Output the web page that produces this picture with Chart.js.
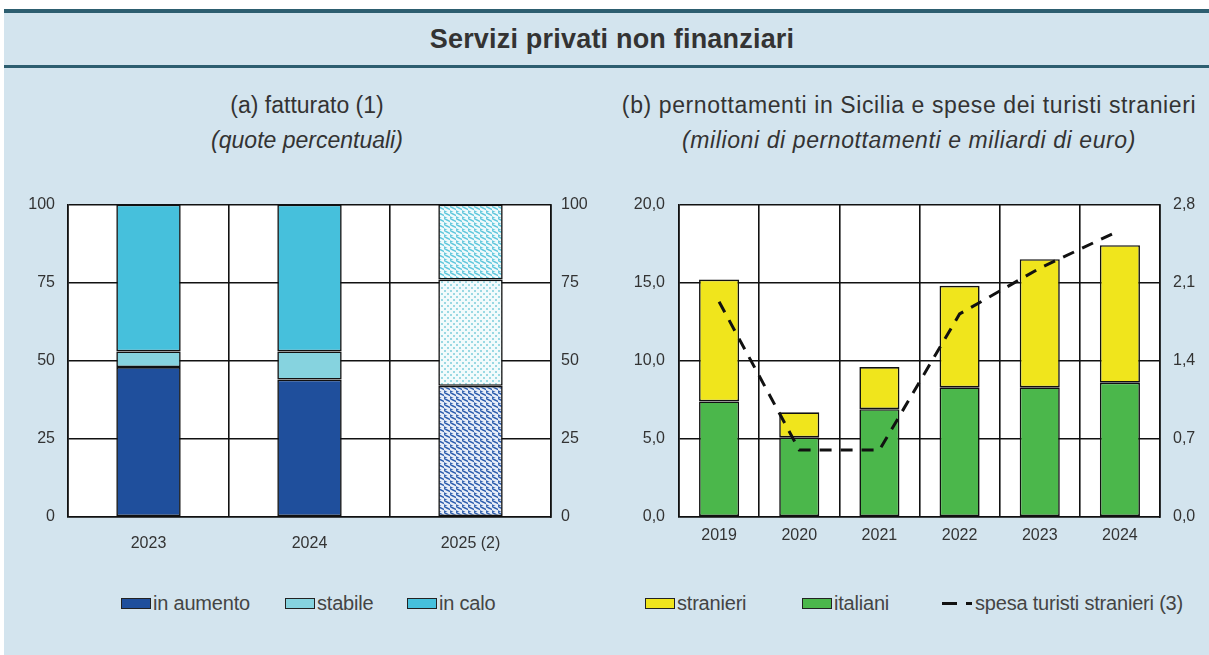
<!DOCTYPE html>
<html>
<head>
<meta charset="utf-8">
<script src="https://cdn.jsdelivr.net/npm/chart.js@4.4.1/dist/chart.umd.min.js"></script>
<style>
  html, body { margin:0; padding:0; }
  body { width:1209px; height:655px; position:relative; overflow:hidden; background:#fff; font-family:"Liberation Sans", Arial, sans-serif; color:#333; }
  #bg { position:absolute; left:4px; top:12px; width:1205px; height:643px; background:#d3e4ee; }
  .rule { position:absolute; left:4px; width:1205px; background:#2d5e70; }
  .t { position:absolute; white-space:nowrap; transform:translateX(-50%); color:#333; }
  .cv { position:absolute; }
  .leg { position:absolute; top:591px; height:24px; line-height:24px; font-size:20px; color:#444; white-space:nowrap; letter-spacing:-0.2px; }
  .leg span.box { display:inline-block; width:28px; height:9px; border:1px solid #222; vertical-align:middle; margin-right:2px; position:relative; top:-1px; }
  .leg span.d1 { display:inline-block; width:15px; height:3px; background:#111; vertical-align:middle; margin-right:9px; position:relative; top:-1px; }
  .leg span.d2 { display:inline-block; width:6px; height:3px; background:#111; vertical-align:middle; margin-right:3px; position:relative; top:-1px; }
</style>
</head>
<body>
<div id="bg"></div>
<div class="rule" style="top:9px;height:4px;"></div>
<div class="rule" style="top:65px;height:3px;"></div>
<div class="t" style="left:612px;top:24px;font-size:27px;font-weight:bold;color:#333;letter-spacing:0.2px;">Servizi privati non finanziari</div>

<div class="t" style="left:307px;top:92px;font-size:23px;">(a) fatturato (1)</div>
<div class="t" style="left:307px;top:127px;font-size:23px;font-style:italic;">(quote percentuali)</div>
<div class="t" style="left:909px;top:92px;font-size:23px;letter-spacing:0.6px;">(b) pernottamenti in Sicilia e spese dei turisti stranieri</div>
<div class="t" style="left:909px;top:127px;font-size:23px;font-style:italic;letter-spacing:0.6px;">(milioni di pernottamenti e miliardi di euro)</div>

<canvas id="c1" class="cv" style="left:12px;top:182px;" width="589" height="378"></canvas>
<canvas id="c2" class="cv" style="left:623px;top:181px;" width="582" height="379"></canvas>

<div class="leg" style="left:121px;"><span class="box" style="background:#1f4f9c;"></span>in aumento</div>
<div class="leg" style="left:285px;"><span class="box" style="background:#86d3df;"></span>stabile</div>
<div class="leg" style="left:407px;"><span class="box" style="background:#46c0dc;"></span>in calo</div>

<div class="leg" style="left:645px;"><span class="box" style="background:#f0e51c;"></span>stranieri</div>
<div class="leg" style="left:802px;"><span class="box" style="background:#4bb74b;"></span>italiani</div>
<div class="leg" style="left:942px;"><span class="d1"></span><span class="d2"></span>spesa turisti stranieri (3)</div>

<script>
// ---- Data: panel (a) ----
const catA = ["2023", "2024", "2025 (2)"];
const inAumento = [48, 44, 42];
const stabile = [5, 9, 34];
const inCalo = [47, 47, 24];
const ticksA = [0, 25, 50, 75, 100];

// ---- Data: panel (b) ----
const catB = ["2019", "2020", "2021", "2022", "2023", "2024"];
const italiani = [7.4, 5.1, 6.9, 8.3, 8.3, 8.6];
const stranieri = [7.8, 1.6, 2.7, 6.5, 8.2, 8.8];
const spesa = [1.93, 0.60, 0.60, 1.82, 2.23, 2.57];
const ticksBL = [0, 5, 10, 15, 20];
const ticksBR = [0, 0.7, 1.4, 2.1, 2.8];

const FONT = { family: "'Liberation Sans', Arial, sans-serif", size: 16 };
const TXT = '#333';

function makePattern(color, bg, kind) {
  const c = document.createElement('canvas');
  c.width = 6; c.height = 6;
  const g = c.getContext('2d');
  g.fillStyle = bg;
  g.fillRect(0, 0, 6, 6);
  g.strokeStyle = color;
  g.fillStyle = color;
  if (kind === 'dots') {
    g.fillRect(0, 0, 2, 2); g.fillRect(3, 3, 2, 2);
  } else {
    g.lineWidth = 1.4;
    g.beginPath();
    g.moveTo(-1, 0); g.lineTo(3, 2); g.lineTo(7, 4);
    g.moveTo(-4, 3); g.lineTo(0, 5); g.lineTo(4, 7);
    g.moveTo(2, -3); g.lineTo(6, -1); g.lineTo(10, 1);
    g.stroke();
  }
  return g.createPattern(c, 'repeat');
}

const whiteArea = {
  id: 'whiteArea',
  beforeDraw(chart) {
    const { ctx, chartArea: a } = chart;
    ctx.save();
    ctx.fillStyle = '#ffffff';
    ctx.fillRect(a.left, a.top, a.right - a.left, a.bottom - a.top);
    ctx.restore();
  }
};

function fixW(w) { return function (s) { s.width = w; }; }
function fixH(h) { return function (s) { s.height = h; }; }

const gridY = { color: '#111', lineWidth: 1.6, drawTicks: false };
const borderK = { color: '#111', width: 1.6 };

// ---- Chart (a) ----
const patAum = makePattern('#2f5fae', '#e8eef8', 'wave');
const patSta = makePattern('#9ad9e3', '#f2fbfc', 'dots');
const patCal = makePattern('#62c8dd', '#f0fafc', 'wave');

new Chart(document.getElementById('c1'), {
  type: 'bar',
  data: {
    labels: catA,
    datasets: [
      { label: 'in aumento', data: inAumento, backgroundColor: ['#1f4f9c', '#1f4f9c', patAum], borderColor: '#111', borderWidth: 1.6, borderSkipped: false },
      { label: 'stabile', data: stabile, backgroundColor: ['#86d3df', '#86d3df', patSta], borderColor: '#111', borderWidth: 1.6, borderSkipped: false },
      { label: 'in calo', data: inCalo, backgroundColor: ['#46c0dc', '#46c0dc', patCal], borderColor: '#111', borderWidth: 1.6, borderSkipped: false }
    ]
  },
  options: {
    responsive: false, animation: false,
    layout: { padding: { top: 6, left: 0, right: 0, bottom: 0 } },
    plugins: { legend: { display: false }, tooltip: { enabled: false } },
    datasets: { bar: { categoryPercentage: 1, barPercentage: 0.40 } },
    scales: {
      x: {
        stacked: true,
        grid: { color: '#111', lineWidth: 1.6, offset: true, drawTicks: false },
        border: borderK,
        ticks: { color: TXT, font: FONT, padding: 17 },
        afterFit: fixH(43)
      },
      y: {
        stacked: true, min: 0, max: 100, position: 'left',
        afterBuildTicks(s) { s.ticks = ticksA.map(v => ({ value: v })); },
        grid: gridY, border: borderK,
        ticks: { color: TXT, font: FONT, padding: 13 },
        afterFit: fixW(56)
      },
      y2: {
        min: 0, max: 100, position: 'right',
        afterBuildTicks(s) { s.ticks = ticksA.map(v => ({ value: v })); },
        grid: { display: false, drawTicks: false }, border: borderK,
        ticks: { color: TXT, font: FONT, padding: 10 },
        afterFit: fixW(50)
      }
    }
  },
  plugins: [whiteArea]
});

// ---- Chart (b) ----
const fmt1 = v => v.toFixed(1).replace('.', ',');
new Chart(document.getElementById('c2'), {
  type: 'bar',
  data: {
    labels: catB,
    datasets: [
      { type: 'line', label: 'spesa turisti stranieri (3)', data: spesa, yAxisID: 'y1', borderColor: '#111', borderWidth: 3, borderDash: [12, 9], pointRadius: 0, fill: false, tension: 0, order: 0 },
      { label: 'italiani', data: italiani, backgroundColor: '#4bb74b', borderColor: '#111', borderWidth: 1.6, borderSkipped: false, stack: 's', order: 1 },
      { label: 'stranieri', data: stranieri, backgroundColor: '#f0e51c', borderColor: '#111', borderWidth: 1.6, borderSkipped: false, stack: 's', order: 2 }
    ]
  },
  options: {
    responsive: false, animation: false,
    layout: { padding: { top: 5, left: 0, right: 0, bottom: 0 } },
    plugins: { legend: { display: false }, tooltip: { enabled: false } },
    datasets: { bar: { categoryPercentage: 1, barPercentage: 0.5 } },
    scales: {
      x: {
        stacked: true,
        grid: { color: '#111', lineWidth: 1.6, offset: true, drawTicks: false },
        border: borderK,
        ticks: { color: TXT, font: FONT, padding: 9 },
        afterFit: fixH(43)
      },
      y: {
        stacked: true, min: 0, max: 20, position: 'left',
        afterBuildTicks(s) { s.ticks = ticksBL.map(v => ({ value: v })); },
        grid: gridY, border: borderK,
        ticks: { color: TXT, font: FONT, padding: 14, callback: v => fmt1(v) },
        afterFit: fixW(56)
      },
      y1: {
        min: 0, max: 2.8, position: 'right',
        afterBuildTicks(s) { s.ticks = ticksBR.map(v => ({ value: v })); },
        grid: { display: false, drawTicks: false }, border: borderK,
        ticks: { color: TXT, font: FONT, padding: 13, callback: v => fmt1(v) },
        afterFit: fixW(45)
      }
    }
  },
  plugins: [whiteArea]
});
</script>
</body>
</html>
